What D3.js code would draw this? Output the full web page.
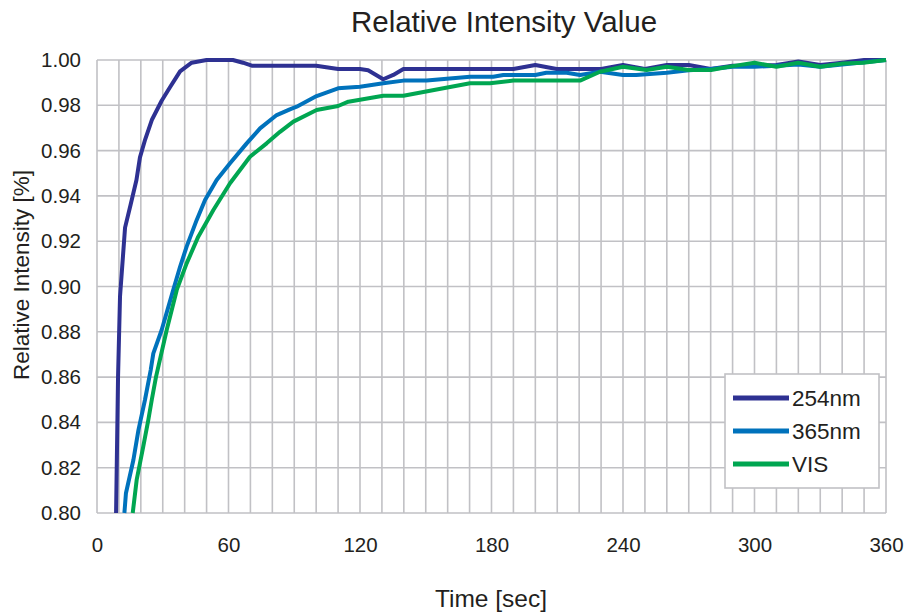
<!DOCTYPE html>
<html>
<head>
<meta charset="utf-8">
<script src="https://cdn.jsdelivr.net/npm/d3@7"></script>
<style>
  body { margin: 0; background: #fff; }
  text { font-family: "Liberation Sans", Arial, sans-serif; fill: #231f20; }
</style>
</head>
<body>
<div id="chart"></div>
<script>
// values
var time254 = [8.7, 9.6, 10.5, 12.8, 15.3, 18, 19.6, 22, 25, 29.5, 33.3, 37.9, 43.2, 50, 57.5, 62, 66.6, 70.6, 88, 100, 110, 120, 123.7, 130.6, 135.2, 139.8, 190, 200, 209.7, 220, 230, 240, 250, 260, 270, 280, 290, 300, 310, 320, 330, 340, 350, 360];
var val254 = [0.80, 0.86, 0.8955, 0.926, 0.936, 0.947, 0.957, 0.965, 0.9735, 0.982, 0.988, 0.995, 0.9988, 1.0, 1.0, 1.0, 0.9988, 0.9975, 0.9975, 0.9975, 0.996, 0.996, 0.9955, 0.9915, 0.9934, 0.996, 0.996, 0.9978, 0.996, 0.996, 0.996, 0.9978, 0.996, 0.9978, 0.9978, 0.996, 0.9975, 0.9975, 0.9978, 0.9993, 0.9978, 0.9988, 1.0, 1.0];

var time365 = [12.5, 13.2, 16.6, 18.9, 21.9, 24.5, 25.7, 29.5, 34.8, 37.9, 40.9, 45.5, 49.3, 54.6, 60.7, 68.3, 74.4, 82, 88, 91.1, 100.2, 110, 120, 130.6, 139.8, 150.4, 170.2, 180.8, 185.4, 200, 205, 214.3, 220.4, 229.5, 240, 246, 260, 270, 280, 290, 300, 310, 320, 330, 340, 350, 360];
var val365 = [0.80, 0.8087, 0.8234, 0.8366, 0.85, 0.8631, 0.8705, 0.8808, 0.8985, 0.9087, 0.9176, 0.9294, 0.9382, 0.947, 0.9544, 0.9632, 0.9698, 0.9757, 0.9782, 0.9794, 0.9841, 0.9875, 0.9882, 0.9897, 0.9909, 0.9909, 0.9926, 0.9926, 0.9934, 0.9934, 0.9944, 0.9944, 0.9934, 0.9948, 0.9934, 0.9934, 0.9944, 0.9955, 0.996, 0.997, 0.997, 0.9975, 0.998, 0.997, 0.998, 0.999, 1.0];

var timeVIS = [16.3, 18.1, 21.1, 23.4, 25, 26.9, 31.8, 36.4, 40.9, 46.2, 53.1, 60.7, 69.8, 77.4, 83.5, 89.6, 100.2, 110, 114.7, 130.6, 139.8, 170.2, 179.3, 190, 220.4, 229.5, 240, 250.8, 260, 270, 280.2, 290, 300, 310, 320, 330, 340.5, 349.6, 360];
var valVIS = [0.80, 0.8146, 0.8293, 0.841, 0.85, 0.86, 0.8808, 0.8985, 0.9102, 0.922, 0.9338, 0.9456, 0.9573, 0.9632, 0.9683, 0.9728, 0.9779, 0.9797, 0.9816, 0.9842, 0.9842, 0.9897, 0.9897, 0.9909, 0.9909, 0.9948, 0.997, 0.9956, 0.997, 0.9956, 0.9956, 0.9973, 0.9988, 0.997, 0.9988, 0.997, 0.9985, 0.9988, 1.0];

var seriesNames = ["254nm", "365nm", "VIS"];
var seriesColors = ["#2e3192", "#0072bc", "#00a651"];
var xTickValues = [0, 60, 120, 180, 240, 300, 360];
var yTickValues = [0.80, 0.82, 0.84, 0.86, 0.88, 0.90, 0.92, 0.94, 0.96, 0.98, 1.00];

var width = 905, height = 615;
var margin = {top: 60, right: 19, bottom: 102, left: 97};
var gridColor = "#c1c1c5";

var svg = d3.select("#chart").append("svg")
   .attr("width", width)
   .attr("height", height);

var x = d3.scaleLinear().domain([0, 360]).range([margin.left, width - margin.right]);
var y = d3.scaleLinear().domain([0.80, 1.00]).range([height - margin.bottom, margin.top]);

// vertical grid every 10 sec
svg.append("g")
   .selectAll("line")
   .data(d3.range(0, 361, 10))
   .enter().append("line")
   .attr("x1", function (d) { return x(d); })
   .attr("x2", function (d) { return x(d); })
   .attr("y1", y(0.80))
   .attr("y2", y(1.00))
   .attr("stroke", gridColor)
   .attr("stroke-width", 1.6);

// horizontal grid at every label
svg.append("g")
   .selectAll("line")
   .data(yTickValues)
   .enter().append("line")
   .attr("x1", x(0))
   .attr("x2", x(360))
   .attr("y1", function (d) { return y(d); })
   .attr("y2", function (d) { return y(d); })
   .attr("stroke", gridColor)
   .attr("stroke-width", 1.6);

// axes (only labels, lines come from the grid)
var xAxis = svg.append("g")
   .attr("transform", "translate(0," + y(0.80) + ")")
   .call(d3.axisBottom(x).tickValues(xTickValues).tickSize(0).tickPadding(24));
xAxis.select(".domain").remove();
xAxis.selectAll("text").style("font-size", "20.5px").style("font-family", "Liberation Sans, Arial, sans-serif").attr("fill", "#231f20");

var yAxis = svg.append("g")
   .attr("transform", "translate(" + x(0) + ",0)")
   .call(d3.axisLeft(y).tickValues(yTickValues).tickFormat(d3.format(".2f")).tickSize(0).tickPadding(16));
yAxis.select(".domain").remove();
yAxis.selectAll("text").style("font-size", "20.5px").style("font-family", "Liberation Sans, Arial, sans-serif").attr("fill", "#231f20");

// the curves
var line = d3.line()
   .x(function (d) { return x(d[0]); })
   .y(function (d) { return y(d[1]); });

var allSeries = [d3.zip(time254, val254), d3.zip(time365, val365), d3.zip(timeVIS, valVIS)];

svg.append("g")
   .selectAll("path")
   .data(allSeries)
   .enter().append("path")
   .attr("d", line)
   .attr("fill", "none")
   .attr("stroke", function (d, i) { return seriesColors[i]; })
   .attr("stroke-width", 4)
   .attr("stroke-linejoin", "round");

// legend
var legend = svg.append("g");
legend.append("rect")
   .attr("x", 725).attr("y", 374)
   .attr("width", 154).attr("height", 114)
   .attr("fill", "#fff")
   .attr("stroke", gridColor)
   .attr("stroke-width", 1.6);

var items = legend.selectAll("g.item")
   .data(seriesNames)
   .enter().append("g")
   .attr("class", "item")
   .attr("transform", function (d, i) { return "translate(733," + (398 + i * 33) + ")"; });
items.append("line")
   .attr("x1", 0).attr("x2", 56)
   .attr("stroke", function (d, i) { return seriesColors[i]; })
   .attr("stroke-width", 5);
items.append("text")
   .attr("x", 59).attr("y", 8)
   .style("font-size", "22.5px")
   .text(function (d) { return d; });

// titles
svg.append("text")
   .attr("x", 504).attr("y", 32)
   .attr("text-anchor", "middle")
   .style("font-size", "29.5px")
   .text("Relative Intensity Value");

svg.append("text")
   .attr("x", 491).attr("y", 607)
   .attr("text-anchor", "middle")
   .style("font-size", "24.5px")
   .text("Time [sec]");

svg.append("text")
   .attr("transform", "translate(29,275) rotate(-90)")
   .attr("text-anchor", "middle")
   .style("font-size", "22.5px")
   .text("Relative Intensity [%]");
</script>
</body>
</html>
